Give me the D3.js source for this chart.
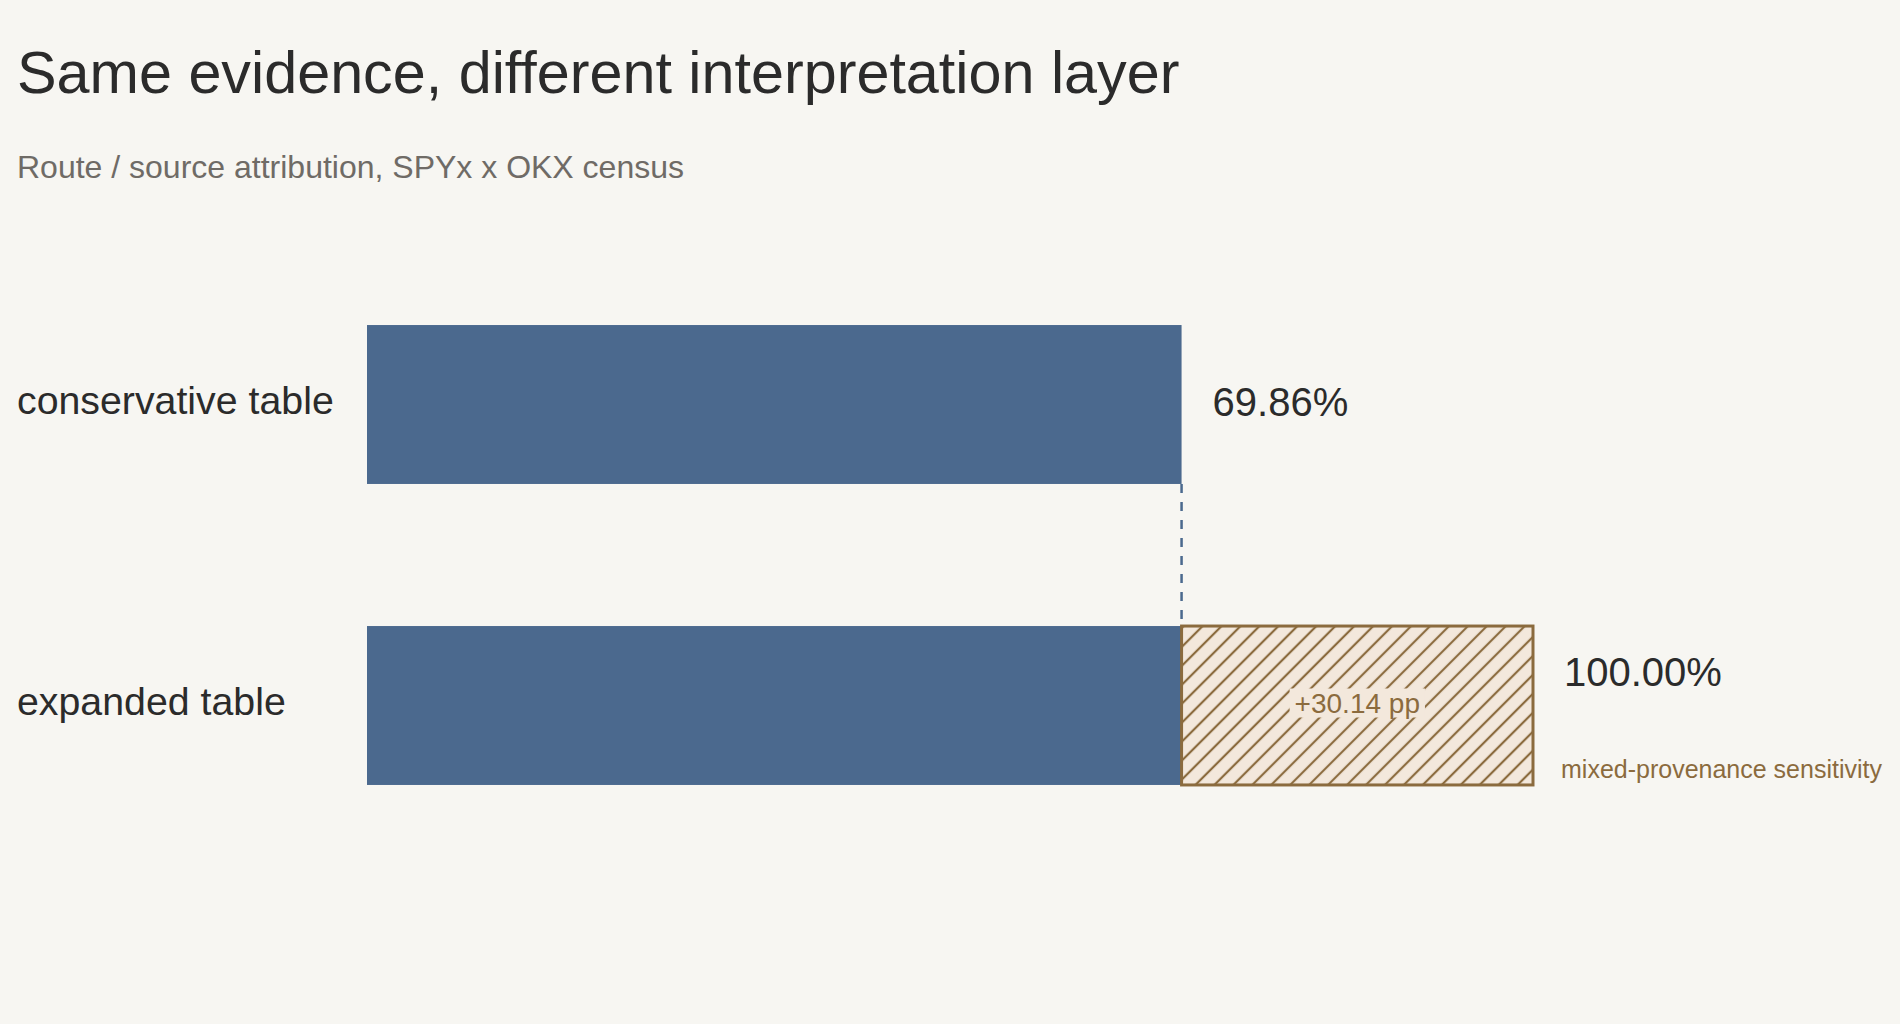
<!DOCTYPE html>
<html>
<head>
<meta charset="utf-8">
<script src="https://cdn.jsdelivr.net/npm/d3@7"></script>
<style>
  html, body { margin: 0; padding: 0; background: #f7f6f2; }
  svg { display: block; font-family: "Liberation Sans", Arial, Helvetica, sans-serif; }
</style>
</head>
<body>
<div id="chart"></div>
<script>
const categories = ["conservative table", "expanded table"];
const baseShare = [69.86, 69.86];        // attributed under conservative rules
const sensitivityShare = [0, 30.14];     // extra share from mixed-provenance rows
const titleText = "Same evidence, different interpretation layer";
const subtitleText = "Route / source attribution, SPYx x OKX census";
const sensitivityNote = "mixed-provenance sensitivity";

const width = 1900, height = 1024;
const blue = "#4b698e", brown = "#8b6b3e", beige = "#f3e8dc", ink = "#2b2b2b";

const svg = d3.select("#chart").append("svg")
    .attr("width", width)
    .attr("height", height);

svg.append("rect")
    .attr("width", width)
    .attr("height", height)
    .attr("fill", "#f7f6f2");

// hatch for the sensitivity block
const defs = svg.append("defs");
const pat = defs.append("pattern")
    .attr("id", "hatch")
    .attr("patternUnits", "userSpaceOnUse")
    .attr("width", 13.4)
    .attr("height", 13.4)
    .attr("patternTransform", "rotate(45)");
pat.append("rect")
    .attr("width", 13.4)
    .attr("height", 13.4)
    .attr("fill", beige);
pat.append("line")
    .attr("x1", 6.7).attr("y1", 0)
    .attr("x2", 6.7).attr("y2", 13.4)
    .attr("stroke", brown)
    .attr("stroke-width", 2.2);

svg.append("text")
    .attr("x", 17)
    .attr("y", 93)
    .attr("font-size", 59.3)
    .attr("fill", ink)
    .text(titleText);

svg.append("text")
    .attr("x", 17)
    .attr("y", 178)
    .attr("font-size", 32)
    .attr("fill", "#6f6b66")
    .text(subtitleText);

const xScale = d3.scaleLinear()
    .domain([0, 100])
    .range([367, 1533]);

const yScale = d3.scaleBand()
    .domain(categories)
    .range([254, 856])
    .paddingInner(0.472)
    .paddingOuter(0.236);

const rows = categories.map((c, i) => ({
    cat: c,
    base: baseShare[i],
    extra: sensitivityShare[i],
    total: baseShare[i] + sensitivityShare[i]
}));

const mid = d => yScale(d.cat) + yScale.bandwidth() / 2;

// category labels
svg.append("g")
    .selectAll("text")
    .data(rows)
    .join("text")
    .attr("x", 17)
    .attr("y", d => mid(d) + 9)
    .attr("font-size", 39.3)
    .attr("fill", ink)
    .text(d => d.cat);

// base bars
svg.append("g")
    .attr("fill", blue)
    .selectAll("rect")
    .data(rows)
    .join("rect")
    .attr("x", xScale(0))
    .attr("y", d => yScale(d.cat))
    .attr("width", d => xScale(d.base) - xScale(0))
    .attr("height", yScale.bandwidth());

// connector between the two base edges
svg.append("line")
    .attr("x1", xScale(rows[0].base))
    .attr("x2", xScale(rows[1].base))
    .attr("y1", yScale(rows[0].cat) + yScale.bandwidth())
    .attr("y2", yScale(rows[1].cat))
    .attr("stroke", blue)
    .attr("stroke-width", 2.5)
    .attr("stroke-dasharray", "9,9");

const extraRows = rows.filter(d => d.extra > 0);

// sensitivity block
svg.append("g")
    .selectAll("rect")
    .data(extraRows)
    .join("rect")
    .attr("x", d => xScale(d.base))
    .attr("y", d => yScale(d.cat))
    .attr("width", d => xScale(d.total) - xScale(d.base))
    .attr("height", yScale.bandwidth())
    .attr("fill", "url(#hatch)")
    .attr("stroke", brown)
    .attr("stroke-width", 3);

// delta label with a backing box to knock out the hatch
const deltaG = svg.append("g")
    .selectAll("g")
    .data(extraRows)
    .join("g");
const deltaText = deltaG.append("text")
    .attr("x", d => (xScale(d.base) + xScale(d.total)) / 2)
    .attr("y", d => mid(d) + 7)
    .attr("text-anchor", "middle")
    .attr("font-size", 28)
    .attr("fill", brown)
    .text(d => `+${d.extra.toFixed(2)} pp`);
deltaText.each(function() {
    const b = this.getBBox();
    d3.select(this.parentNode).insert("rect", "text")
        .attr("x", b.x - 5)
        .attr("y", b.y + 1)
        .attr("width", b.width + 10)
        .attr("height", b.height - 2)
        .attr("fill", beige);
});

// value labels
svg.append("g")
    .selectAll("text")
    .data(rows)
    .join("text")
    .attr("x", d => xScale(d.total) + 31)
    .attr("y", d => d.extra > 0 ? mid(d) - 20 : mid(d) + 11)
    .attr("font-size", 40)
    .attr("fill", ink)
    .text(d => d3.format(".2f")(d.total) + "%");

svg.append("g")
    .selectAll("text")
    .data(extraRows)
    .join("text")
    .attr("x", d => xScale(d.total) + 28)
    .attr("y", d => mid(d) + 72)
    .attr("font-size", 25)
    .attr("fill", brown)
    .text(sensitivityNote);
</script>
</body>
</html>
